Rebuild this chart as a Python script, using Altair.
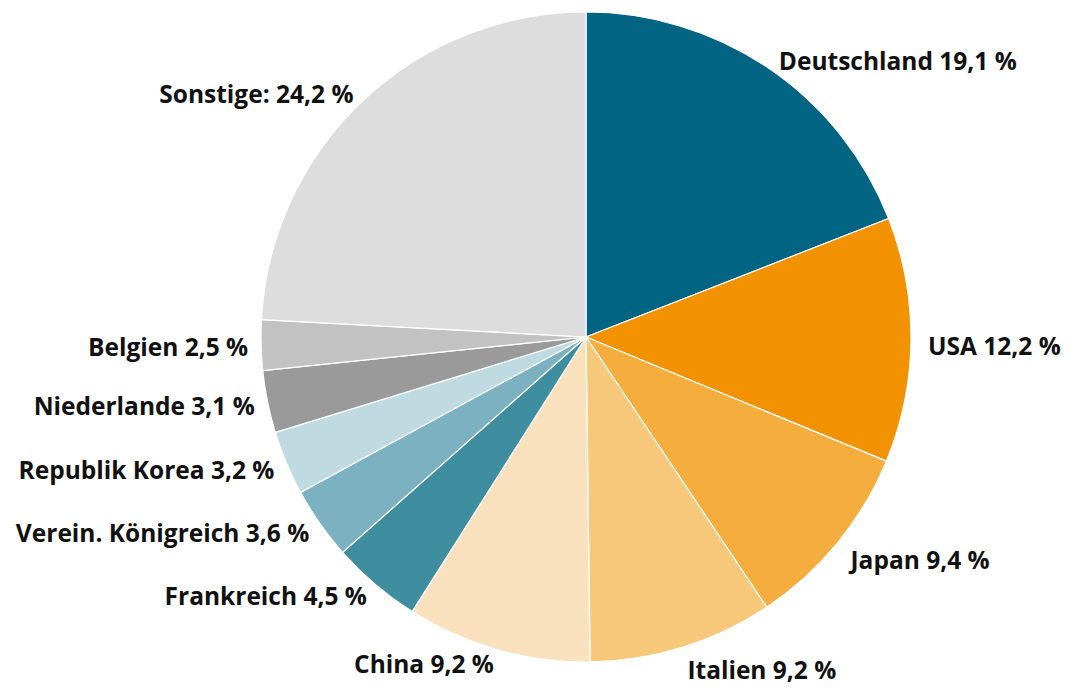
import altair as alt
import pandas as pd

categories = ["Deutschland", "USA", "Japan", "Italien", "China", "Frankreich",
              "Verein. Königreich", "Republik Korea", "Niederlande", "Belgien", "Sonstige"]
values = [19.1, 12.2, 9.4, 9.2, 9.2, 4.5, 3.6, 3.2, 3.1, 2.5, 24.2]
colors = ["#006482", "#F39200", "#F5AD3D", "#F7C87A", "#FAE1BE", "#3F8EA0",
          "#7BB1C0", "#C0DAE1", "#9A9A9A", "#C2C2C2", "#DDDDDD"]

def fmt(c, v):
    sep = ": " if c == "Sonstige" else " "
    num = f"{v:.1f}".replace(".", ",")
    return f"{c}{sep}{num} %"

labels = [fmt(c, v) for c, v in zip(categories, values)]

df = pd.DataFrame({"cat": categories, "value": values, "label": labels})
df["end"] = df["value"].cumsum()
df["start"] = df["end"] - df["value"]
df["mid"] = (df["start"] + df["end"]) / 2
total = float(df["value"].sum())

theta_scale = alt.Scale(domain=[0, total])
CX, CY, R = 578, 329, 325

base = alt.Chart(df)

arcs = base.mark_arc(radius=R, stroke="white", strokeWidth=1.2).encode(
    theta=alt.Theta("start:Q", scale=theta_scale),
    theta2="end:Q",
    color=alt.Color("cat:N", scale=alt.Scale(domain=categories, range=colors), legend=None),
    x=alt.value(CX),
    y=alt.value(CY),
)

font = dict(font="Open Sans", fontSize=24.5, fontWeight="bold", color="#111111", baseline="middle")

right_labels = base.transform_filter(alt.datum.mid < total / 2).mark_text(
    radius=342, align="left", dy=8, **font
).encode(
    theta=alt.Theta("mid:Q", scale=theta_scale),
    text="label:N",
    x=alt.value(CX),
    y=alt.value(CY),
)

left_labels = base.transform_filter(alt.datum.mid >= total / 2).mark_text(
    radius=338, align="right", dy=4, **font
).encode(
    theta=alt.Theta("mid:Q", scale=theta_scale),
    text="label:N",
    x=alt.value(CX),
    y=alt.value(CY),
)

chart = alt.layer(arcs, right_labels, left_labels).properties(
    width=1059, height=677,
    autosize=alt.AutoSizeParams(type="fit", contains="padding"),
    padding=0,
).configure_view(stroke=None)

chart.save("out.html", embed_options={"renderer": "svg", "actions": False})
